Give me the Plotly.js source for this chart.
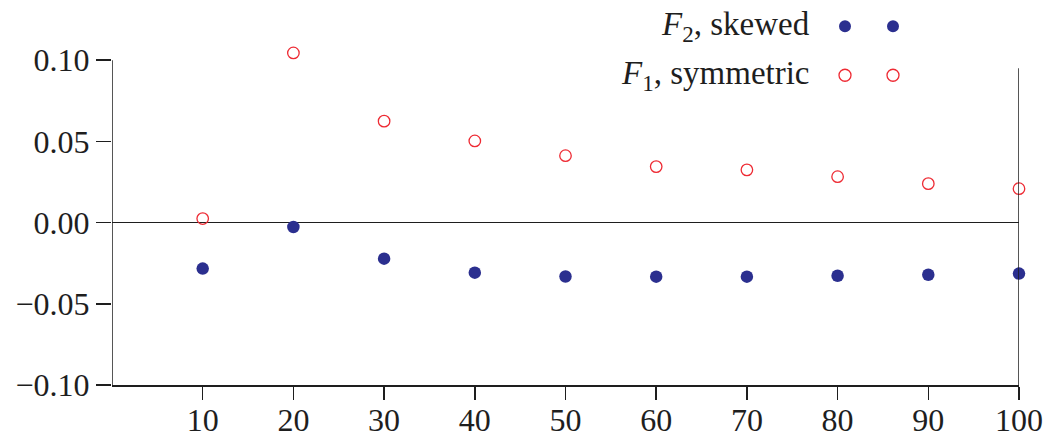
<!DOCTYPE html>
<html>
<head>
<meta charset="utf-8">
<script src="https://cdn.plot.ly/plotly-3.0.1.min.js"></script>
<style>html,body{margin:0;padding:0;background:#fff;}#chart{width:1050px;height:440px;}</style>
</head>
<body>
<div id="chart"></div>
<script>
const xValues = [10, 20, 30, 40, 50, 60, 70, 80, 90, 100];
const f1Symmetric = [0.0025, 0.1045, 0.0625, 0.0503, 0.0412, 0.0345, 0.0325, 0.0283, 0.0240, 0.0209];
const f2Skewed = [-0.0283, -0.0027, -0.0222, -0.0308, -0.0332, -0.0333, -0.0333, -0.0327, -0.0321, -0.0314];
const xTicks = [10, 20, 30, 40, 50, 60, 70, 80, 90, 100];
const yTicks = [-0.10, -0.05, 0.00, 0.05, 0.10];
const legendLabels = ['<i>F</i><sub>2</sub>, skewed', '<i>F</i><sub>1</sub>, symmetric'];

const blue = '#2b2f8f';
const red = '#ee2a33';
const ink = '#1e1e1e';
const font = 'Liberation Serif, DejaVu Serif, serif';

const traces = [
  {x: xValues, y: f2Skewed, mode: 'markers', type: 'scatter', cliponaxis: false,
   marker: {color: blue, size: 12.5, line: {width: 0}}, showlegend: false},
  {x: xValues, y: f1Symmetric, mode: 'markers', type: 'scatter', cliponaxis: false,
   marker: {color: red, size: 11.5, symbol: 'circle-open', line: {color: red, width: 1.3}}, showlegend: false}
];

function legendDot(px, py, filled) {
  return {type: 'circle', xref: 'paper', yref: 'paper', xsizemode: 'pixel', ysizemode: 'pixel',
    xanchor: px, yanchor: py, x0: -6, x1: 6, y0: -6, y1: 6,
    fillcolor: filled ? blue : 'rgba(0,0,0,0)',
    line: {color: filled ? blue : red, width: filled ? 0 : 1.3}};
}
// plot area: x 112..1019, y 44..385 (range -0.10..0.11)
const plotW = 907, plotH = 341.25, topMargin = 43.75;
const px = v => (v - 112) / plotW;
const py = v => (385 - v) / plotH;

const layout = {
  width: 1050, height: 440,
  margin: {l: 112, r: 31, t: topMargin, b: 55},
  paper_bgcolor: '#fff', plot_bgcolor: '#fff',
  font: {family: font, size: 32, color: ink},
  xaxis: {range: [0, 100], tickvals: xTicks, ticktext: xTicks.map(String),
    showgrid: false, zeroline: false, showline: true, linecolor: ink, linewidth: 1.5,
    ticks: 'outside', ticklen: 13, tickwidth: 1.5, tickcolor: ink, ticklabelstandoff: -7,
    tickfont: {family: font, size: 32, color: ink}},
  yaxis: {range: [-0.1, 0.11], tickvals: yTicks, ticktext: yTicks.map(v => (v < 0 ? '\u2212' : '') + Math.abs(v).toFixed(2)),
    showgrid: false, zeroline: true, zerolinecolor: ink, zerolinewidth: 1.5,
    showline: false,
    ticks: 'outside', ticklen: 15, tickwidth: 1.5, tickcolor: ink,
    tickfont: {family: font, size: 32, color: ink}},
  shapes: [
    {type: 'line', xref: 'x', yref: 'y', x0: 0, x1: 0, y0: -0.1, y1: 0.1, line: {color: ink, width: 1.5}},
    {type: 'line', xref: 'x', yref: 'y', x0: 100, x1: 100, y0: -0.1, y1: 0.095, line: {color: ink, width: 1.5}},
    legendDot(px(845), py(26), true), legendDot(px(893), py(26), true),
    legendDot(px(845), py(75), false), legendDot(px(893), py(75), false)
  ],
  annotations: [
    {xref: 'paper', yref: 'paper', x: px(812), y: py(26), xanchor: 'right', yanchor: 'middle', showarrow: false,
     text: legendLabels[0], font: {family: font, size: 33, color: ink}},
    {xref: 'paper', yref: 'paper', x: px(812), y: py(75), xanchor: 'right', yanchor: 'middle', showarrow: false,
     text: legendLabels[1], font: {family: font, size: 33, color: ink}}
  ]
};

Plotly.newPlot('chart', traces, layout, {staticPlot: true, displayModeBar: false});
</script>
</body>
</html>
